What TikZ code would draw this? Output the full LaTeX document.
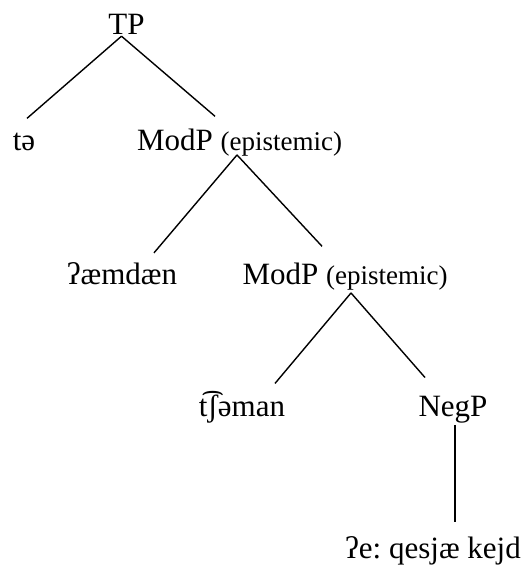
\documentclass[tikz,border=0pt]{standalone}
\usepackage{fontspec}
\setmainfont{Liberation Serif}
\usepackage{tikz}
\frenchspacing

\begin{document}
\begin{tikzpicture}[x=1pt, y=-1pt,
    cat/.style={inner sep=0pt, anchor=base, font=\fontsize{31}{36}\selectfont},
    branch/.style={line width=1.4pt}]
            \useasboundingbox (0,0) rectangle (527,569);
            
            \node[cat] (tp) at (126.5,35) {TP};
            \node[cat] (ta) at (24,151) {tə};
            \node[cat] (modpA) at (239.5,151) {ModP {\fontsize{27}{32}\selectfont(epistemic)}};
            \node[cat] (aemdaen) at (122,284) {ʔæmdæn};
            \node[cat] (modpB) at (345,284) {ModP {\fontsize{27}{32}\selectfont(epistemic)}};
            \node[cat] (tsaman) at (242,416) {t͡ʃəman};
            \node[cat] (negp) at (453,416) {NegP};
            \node[cat] (qesjae) at (433,558) {ʔe: qesjæ kejd};
            
            \draw[branch] ([xshift=-5pt, yshift=-1pt]tp.south) -- ([xshift=3pt, yshift=15pt]ta.north);
            \draw[branch] ([xshift=-5pt, yshift=-1pt]tp.south) -- ([xshift=-24.5pt, yshift=13pt]modpA.north);
            \draw[branch] ([xshift=-2.5pt, yshift=2pt]modpA.south) -- ([xshift=32pt, yshift=9pt]aemdaen.north);
            \draw[branch] ([xshift=-2.5pt, yshift=2pt]modpA.south) -- ([xshift=-23pt, yshift=16pt]modpB.north);
            \draw[branch] ([xshift=6pt, yshift=-3pt]modpB.south) -- ([xshift=33pt, yshift=8pt]tsaman.north);
            \draw[branch] ([xshift=6pt, yshift=-3pt]modpB.south) -- ([xshift=-28pt, yshift=18pt]negp.north);
            \draw[branch] ([xshift=2pt, yshift=-2pt]negp.south) -- ([xshift=22pt, yshift=14pt]qesjae.north);
            
        \end{tikzpicture}
\end{document}
